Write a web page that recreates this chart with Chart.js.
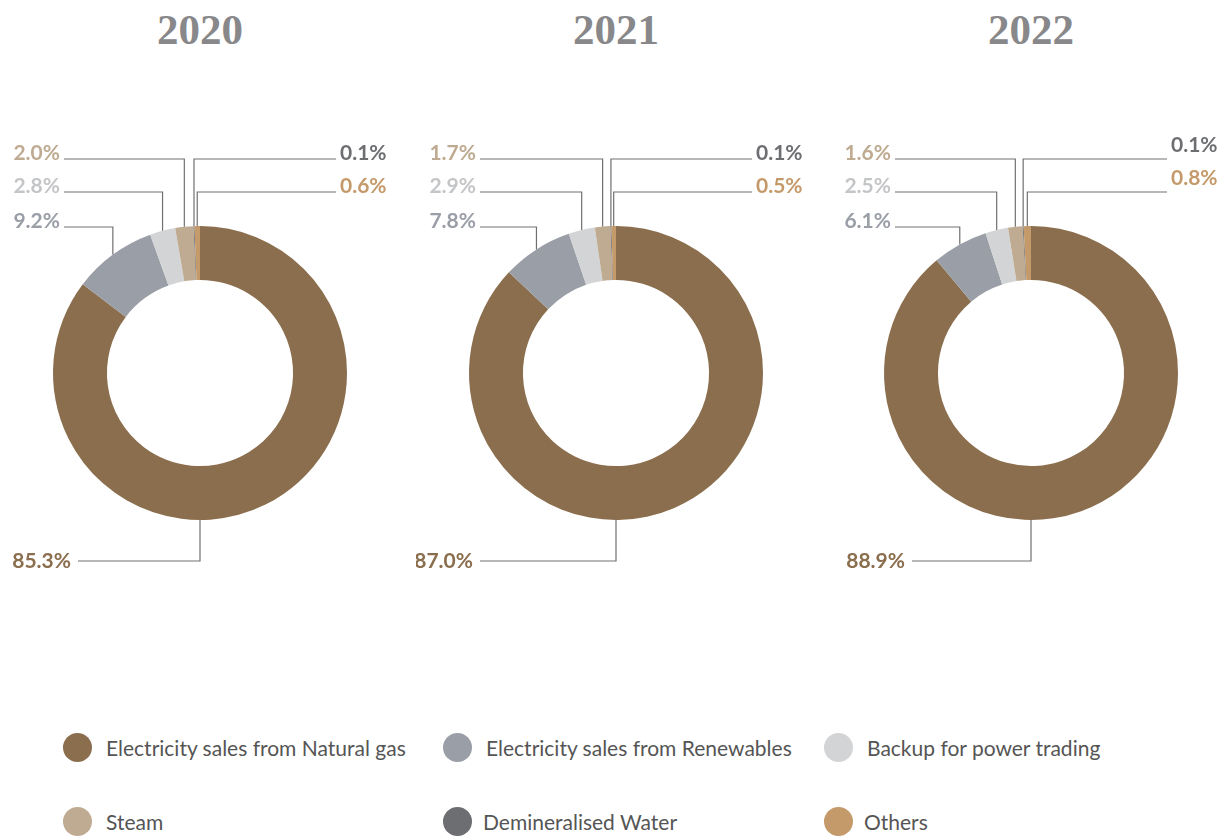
<!DOCTYPE html>
<html>
<head>
<meta charset="utf-8">
<script src="https://cdn.jsdelivr.net/npm/chart.js@4.4.0/dist/chart.umd.min.js"></script>
<style>
  body { margin: 0; background: #fff; width: 1231px; height: 840px; position: relative; overflow: hidden; }
  canvas { position: absolute; top: 73px; }
  .year { position: absolute; top: 5px; width: 200px; margin-left: -100px; text-align: center;
          font: bold 43px "Liberation Serif", serif; color: #88888b; }
  .leg { position: absolute; font: 21px Lato, sans-serif; color: #555; line-height: 30px; white-space: nowrap; }
  .leg i { position: absolute; left: -43px; top: 0; width: 29px; height: 29px; border-radius: 50%; }
</style>
</head>
<body>
<script>
// -----------------------------
// Data
// -----------------------------
const years = ["2020", "2021", "2022"];
const categories = [
  "Electricity sales from Natural gas",
  "Electricity sales from Renewables",
  "Backup for power trading",
  "Steam",
  "Demineralised Water",
  "Others"
];
const share2020 = [85.3, 9.2, 2.8, 2.0, 0.1, 0.6];
const share2021 = [87.0, 7.8, 2.9, 1.7, 0.1, 0.5];
const share2022 = [88.9, 6.1, 2.5, 1.6, 0.1, 0.8];
const shares = [share2020, share2021, share2022];

// -----------------------------
// Styling / layout
// -----------------------------
const sliceColors = ["#8b6e4d", "#9a9ea6", "#d3d4d6", "#bfab91", "#6d6e71", "#c59a6a"];
const labelColors = ["#8b6e4d", "#9a9ea6", "#c4c5c7", "#bfab91", "#6d6e71", "#c59a6a"];
const centersX = [200, 616, 1031];
// where each label sits: side + line height relative to ring centre
const labelSlots = [
  { side: "bottom", dy: 188 },
  { side: "left", dy: -146 },
  { side: "left", dy: -181 },
  { side: "left", dy: -214 },
  { side: "right", dy: -214 },
  { side: "right", dy: -181 }
];
const bottomLineLen = [122, 136, 119];
const rightLift = [0, 0, 8];

// leader lines + percentage labels
const leaderLabels = {
  id: "leaderLabels",
  afterDatasetsDraw(chart, args, opts) {
    const ctx = chart.ctx;
    const arcs = chart.getDatasetMeta(0).data;
    const vals = chart.data.datasets[0].data;
    ctx.save();
    ctx.font = "bold 21px Lato, sans-serif";
    ctx.textBaseline = "middle";
    arcs.forEach((arc, i) => {
      const p = arc.getProps(["x", "y", "startAngle", "endAngle", "outerRadius"], true);
      const slot = labelSlots[i];
      const lineY = p.y + slot.dy;
      const txt = vals[i].toFixed(1) + "%";
      ctx.strokeStyle = "#707070";
      ctx.lineWidth = 1.2;
      ctx.beginPath();
      ctx.fillStyle = labelColors[i];
      if (slot.side === "bottom") {
        const endX = p.x - opts.bottomLen;
        ctx.moveTo(p.x, p.y + p.outerRadius);
        ctx.lineTo(p.x, lineY);
        ctx.lineTo(endX, lineY);
        ctx.stroke();
        ctx.textAlign = "right";
        ctx.fillText(txt, endX - 7, lineY);
      } else {
        const mid = (p.startAngle + p.endAngle) / 2;
        const ax = p.x + p.outerRadius * Math.cos(mid);
        const ay = p.y + p.outerRadius * Math.sin(mid);
        const dir = slot.side === "left" ? -1 : 1;
        ctx.moveTo(ax, ay);
        ctx.lineTo(ax, lineY);
        ctx.lineTo(p.x + dir * 136, lineY);
        ctx.stroke();
        ctx.textAlign = slot.side === "left" ? "right" : "left";
        const lift = slot.side === "right" ? opts.rightLift : 0;
        ctx.fillText(txt, p.x + dir * 140, lineY - 6 - lift);
      }
    });
    ctx.restore();
  }
};

years.forEach((yr, k) => {
  const title = document.createElement("div");
  title.className = "year";
  title.style.left = centersX[k] + "px";
  title.textContent = yr;
  document.body.appendChild(title);

  const cv = document.createElement("canvas");
  cv.width = 400;
  cv.height = 600;
  cv.style.left = (centersX[k] - 200) + "px";
  document.body.appendChild(cv);

  new Chart(cv.getContext("2d"), {
    type: "doughnut",
    data: {
      labels: categories,
      datasets: [{
        data: shares[k],
        backgroundColor: sliceColors,
        borderWidth: 0
      }]
    },
    options: {
      responsive: false,
      animation: false,
      radius: 147,
      cutout: "63.3%",
      layout: { padding: 0 },
      plugins: {
        legend: { display: false },
        tooltip: { enabled: false },
        leaderLabels: { bottomLen: bottomLineLen[k], rightLift: rightLift[k] }
      }
    },
    plugins: [leaderLabels]
  });
});

// legend
const legendPos = [
  [106, 733], [486, 733], [867, 733],
  [106, 807], [483, 807], [864, 807]
];
categories.forEach((c, i) => {
  const d = document.createElement("div");
  d.className = "leg";
  d.style.left = legendPos[i][0] + "px";
  d.style.top = legendPos[i][1] + "px";
  d.innerHTML = '<i style="background:' + sliceColors[i] + '"></i>' + c;
  if (i === 4 || i === 5) d.querySelector("i").style.left = "-40px";
  document.body.appendChild(d);
});
</script>
</body>
</html>
